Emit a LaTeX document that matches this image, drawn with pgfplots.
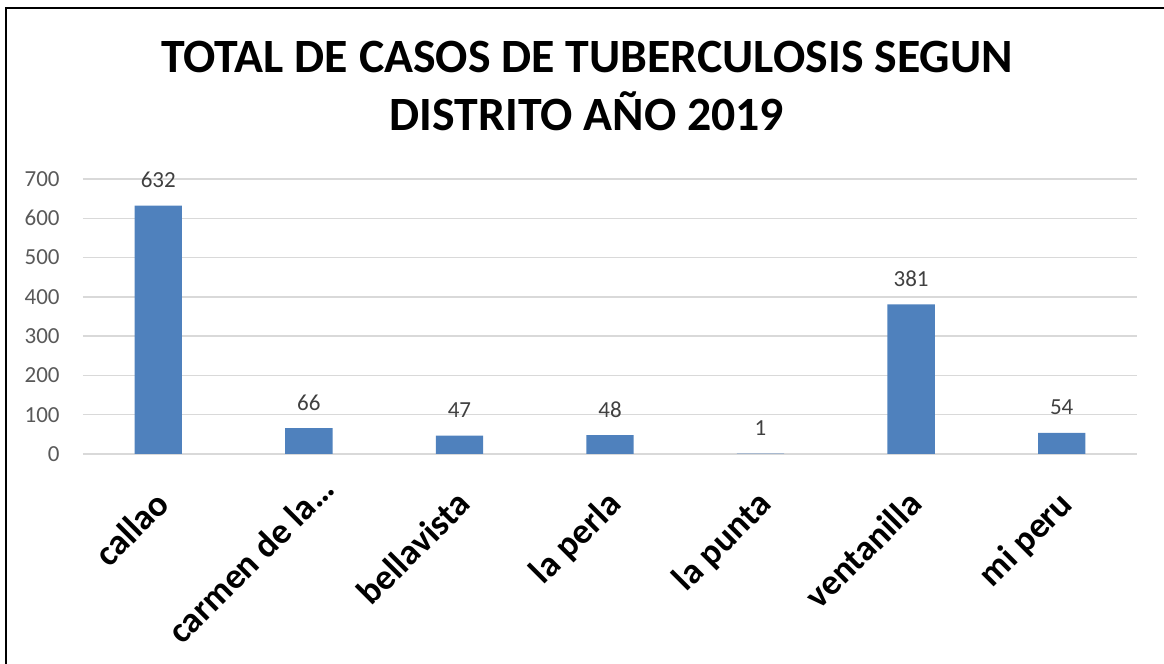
\documentclass[border=0pt]{standalone}
\usepackage{fontspec}
\setmainfont{Carlito}
\usepackage{pgfplots}
\pgfplotsset{compat=1.18}
\definecolor{barblue}{HTML}{4F81BD}
\definecolor{gridgray}{HTML}{D9D9D9}
\definecolor{ticktxt}{HTML}{595959}
\definecolor{lbltxt}{HTML}{404040}

\begin{document}
\begin{tikzpicture}
% page = 1164 x 664 px at 0.5pt per px, axis box lower left at px (83,454)
\path[use as bounding box] (-41.5pt,-105pt) rectangle (540.5pt,227pt);
\begin{axis}[
    scale only axis,
    width=527pt, height=137.5pt,
    xmin=-0.5, xmax=6.5,
    ymin=0, ymax=700,
    ytick={0,100,...,700},
    xtick=data,
    % the truncated label sits further up-right in the reference
    xticklabels={callao, {carmen de la…\kern-10.5pt\relax}, bellavista, la perla, la punta, ventanilla, mi peru},
    ymajorgrids,
    major grid style={gridgray, line width=0.75pt},
    axis line style={draw=none},
    major tick length=0pt,
    /pgf/number format/assume math mode=true,
    yticklabel style={font=\fontsize{11.5}{13}\selectfont, text=ticktxt, anchor=east, inner sep=0pt, xshift=-11.5pt},
    xticklabel style={font=\bfseries\fontsize{18}{21}\selectfont, text=black, inner sep=0pt, xshift=-2.5pt, yshift=-17pt, rotate=45, anchor=north east},
    ybar, bar width=23.65pt,
    nodes near coords,
    nodes near coords style={font=\fontsize{11.5}{13}\selectfont, text=lbltxt, anchor=south, inner sep=0pt, yshift=8.75pt},
]
\addplot[fill=barblue, draw=none] coordinates {(0,632) (1,66) (2,47) (3,48) (4,1) (5,381) (6,54)};
\end{axis}
\node[anchor=base, font=\bfseries\fontsize{23.9}{28}\selectfont] at (252pt,190.5pt) {TOTAL DE CASOS DE TUBERCULOSIS SEGUN};
\node[anchor=base, font=\bfseries\fontsize{23.9}{28}\selectfont] at (252pt,161.5pt) {DISTRITO AÑO 2019};
\draw[black, line width=1pt] (-38.25pt,-105pt) -- (-38.25pt,222.75pt) -- (540.5pt,222.75pt);
\end{tikzpicture}
\end{document}
